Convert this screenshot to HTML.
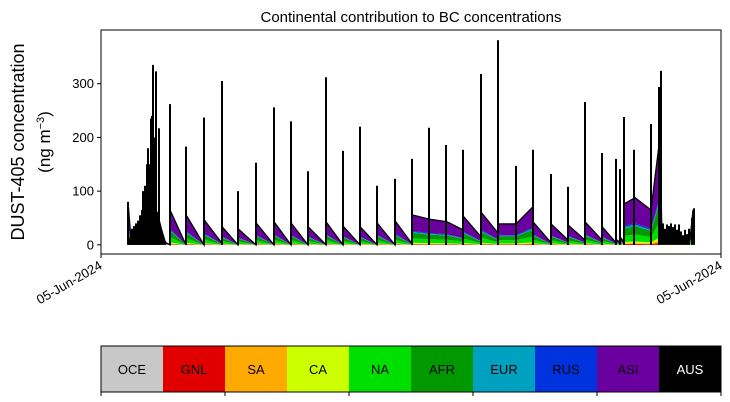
<!DOCTYPE html>
<html><head><meta charset="utf-8"><style>
body{margin:0;background:#fff;font-family:"Liberation Sans",sans-serif}
svg{display:block}
</style></head><body>
<svg id="chart" width="730" height="402">
<text x="411" y="22" text-anchor="middle" font-size="15">Continental contribution to BC concentrations</text>
<g id="plot"></g>
<text transform="translate(24,142) rotate(-90)" text-anchor="middle" font-size="18">DUST-405 concentration</text>
<text transform="translate(50,142) rotate(-90)" text-anchor="middle" font-size="17">(ng m<tspan baseline-shift="super" font-size="11">−3</tspan>)</text>
<g id="cbar"></g>
</svg>
<script>
const regions=["OCE","GNL","SA","CA","NA","AFR","EUR","RUS","ASI","AUS"];
const regionColors=["#c8c8c8","#e00000","#ffaa00","#ccff00","#00e000","#009900","#00a0c0","#0033dd","#6a00a0","#000000"];
const layerFractions=[0,0.02,0.02,0.03,0.15,0.18,0.03,0.03,0.54];
const areaTimes=[128,131,165,170,170,186,186,204,204,222,222,238,238,256,256,274,274,291,291,308,308,326,326,343,343,360,360,377,377,395,395,412,412,429,447,463,463,481,481,498,498,516,533,533,551,551,568,568,585,585,602,602,616,616,620,620,624,624,635,651,660,662,690,693];
const areaTotals=[80,10,5,0,65,0,56,0,47,3,34,0,30,0,41,0,43,0,41,0,34,0,43,0,35,0,34,0,41,0,45,2,56,48,43,28,54,15,61,22,39,39,71,43,4,39,9,37,9,43,9,34,4,10,5,15,5,76,88,65,201,10,10,65];
const spikeTimes=[128,132,134,136,138,140,142,143,145,147,148,149,151,152,153,155,156,159,170,186,204,222,238,256,274,291,308,326,343,360,377,395,412,429,446,463,481,498,516,533,551,568,585,602,616,620,624,634,651,659,661,663,665,667,669,671,673,675,677,679,681,683,685,687,689,692,694];
const spikeValues=[80,30,35,40,45,55,65,100,110,150,180,150,235,240,335,200,323,217,262,183,237,305,100,153,256,230,137,312,175,220,110,123,160,218,186,177,318,381,147,177,132,108,266,171,160,141,238,177,225,294,324,40,30,38,35,40,33,38,28,38,25,18,28,20,30,50,68];
const clusterTimes=[129,131,134,137,140,143,146,149,152,155,158,162,166];
const clusterValues=[10,20,25,35,45,60,65,75,85,70,60,30,5];
const yTicks=[0,100,200,300];
const xTickLabels=["05-Jun-2024","05-Jun-2024"];

const X0=101,X1=721,Y0=30,Y1=254;
const tMin=101,tMax=721;
const vMin=-17,vMax=400;
const xs=t=>X0+(t-tMin)/(tMax-tMin)*(X1-X0);
const ys=v=>Y1-(v-vMin)/(vMax-vMin)*(Y1-Y0);
const NS="http://www.w3.org/2000/svg";
function mk(tag,attrs,parent){const e=document.createElementNS(NS,tag);for(const k in attrs)e.setAttribute(k,attrs[k]);parent.appendChild(e);return e;}
const plot=document.getElementById('plot');

let cum=areaTotals.map(()=>0);
for(let L=0;L<layerFractions.length;L++){
  const lower=cum.slice();
  const upper=cum.map((c,i)=>c+areaTotals[i]*layerFractions[L]);
  if(layerFractions[L]>0){
    let d="M"+areaTimes.map((t,i)=>xs(t)+","+ys(upper[i])).join("L");
    for(let i=areaTimes.length-1;i>=0;i--)d+="L"+xs(areaTimes[i])+","+ys(lower[i]);
    const p=mk('path',{d:d+"Z",fill:regionColors[L]},plot);
    
    
  }
  cum=upper;
}
const ol=mk('polyline',{points:areaTimes.map((t,i)=>xs(t)+","+ys(areaTotals[i])).join(" "),fill:"none",stroke:"#000","stroke-width":1.3},plot);


let cd="M"+xs(clusterTimes[0])+","+ys(0);
clusterTimes.forEach((t,i)=>cd+="L"+xs(t)+","+ys(clusterValues[i]));
cd+="L"+xs(clusterTimes[clusterTimes.length-1])+","+ys(0)+"Z";
const cl=mk('path',{d:cd,fill:"#000"},plot);


spikeTimes.forEach((t,i)=>{
  const l=mk('line',{x1:xs(t),x2:xs(t),y1:ys(0),y2:ys(spikeValues[i]),stroke:"#000","stroke-width":2},plot);
  
  
});
const fr=mk('rect',{x:X0,y:Y0,width:X1-X0,height:Y1-Y0,fill:"none",stroke:"#000","stroke-width":1},plot);


yTicks.forEach(v=>{
  const tk=mk('line',{x1:X0-4,x2:X0,y1:ys(v),y2:ys(v),stroke:"#000"},plot);
  
  
  const tx=mk('text',{x:X0-7,y:ys(v)+4.5,"text-anchor":"end","font-size":13},plot);
  tx.textContent=v;
  
  
});
[X0,X1].forEach((x,i)=>{
  const tk=mk('line',{x1:x,x2:x,y1:Y1,y2:Y1+4,stroke:"#000"},plot);
  
  
  const tx=mk('text',{transform:`translate(${x+2},${Y1+14}) rotate(-30)`,"text-anchor":"end","font-size":13},plot);
  tx.textContent=xTickLabels[i];
  
  
});
const cb=document.getElementById('cbar');
const CY=346,CH=46,cw=(X1-X0)/regions.length;
regions.forEach((r,i)=>{
  const rc=mk('rect',{x:X0+i*cw,y:CY,width:cw+0.5,height:CH,fill:regionColors[i]},cb);
  
  
  const tx=mk('text',{x:X0+i*cw+cw/2,y:CY+CH/2+5,"text-anchor":"middle","font-size":13,fill:r==="AUS"?"#fff":"#000"},cb);
  tx.textContent=r;
  
  
});
const cf=mk('rect',{x:X0,y:CY,width:X1-X0,height:CH,fill:"none",stroke:"#000"},cb);


for(let i=0;i<=regions.length;i+=2){
  const tk=mk('line',{x1:X0+i*cw,x2:X0+i*cw,y1:CY+CH,y2:CY+CH+4,stroke:"#000"},cb);
  
  
}
</script>
</body></html>
